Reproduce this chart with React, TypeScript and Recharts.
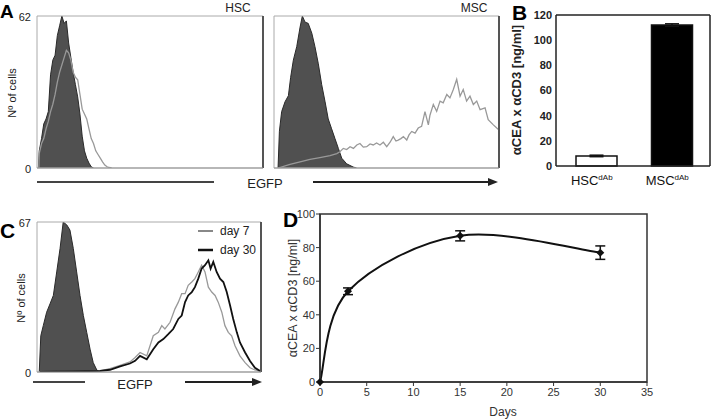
import React from "react";
import {
  ComposedChart,
  Area,
  Line,
  Bar,
  Cell,
  ErrorBar,
  XAxis,
  YAxis,
  ReferenceArea,
  ReferenceLine,
} from "recharts";

const FONT = "'Liberation Sans', Arial, Helvetica, sans-serif";

// ---- Panel A (x = position along the EGFP axis, % of the axis width)
const hscIsoX = [0.6, 1, 2, 3, 4, 5, 6, 7, 8, 9, 10, 11, 12, 13, 14, 15, 16, 17, 18, 19, 20, 21, 22, 23, 24, 25];
const hscIsoY = [0, 7, 12, 18, 20, 23, 38, 44, 46, 54, 58, 62, 59, 60, 51, 45, 39, 34, 29, 22, 13, 7, 4, 2, 0.5, 0];
const hscEgfpX = [0.8, 1, 2, 3, 4, 5, 6, 7, 8, 9, 10, 11, 12, 13, 14, 15, 16, 17, 18, 19, 20, 21, 22, 23, 24, 25, 26, 27, 28, 29, 30, 31, 32, 33];
const hscEgfpY = [0, 6, 10, 12, 16, 19, 23, 26, 30, 35, 39, 42, 45, 48, 47, 44, 39, 37, 36, 30, 24, 22, 20, 16, 12, 10, 7, 5.5, 4, 2.5, 1.2, 0.5, 0.2, 0];

const mscIsoX = [1.8, 2.4, 3.4, 4.9, 6.4, 7.4, 8.6, 10.1, 11.6, 12.6, 13.8, 15.2, 16.8, 18.2, 19.7, 21.2, 22.7, 24.1, 25.6, 27.1, 28.6, 30.1, 32.3, 35.2, 36.7];
const mscIsoY = [0, 15, 23, 27, 29.5, 37, 44, 49.5, 57.5, 62, 59.5, 59, 55, 49.5, 42.5, 34, 27, 20, 16, 12, 8, 4, 1.7, 0.4, 0];
const mscEgfpX = [
  1.8, 7.1, 11.6, 16, 20.4, 24.9, 27.9, 29.3, 30.8, 32.3, 33.8, 35.3, 36.8, 38.2, 39.7, 41.2, 42.7, 44.1, 45.6,
  47.1, 48.6, 50.1, 51.6, 53, 54.2, 55.2, 56.4, 57.5, 59, 60, 61.2, 62.7, 64.1, 65.6, 67.1, 68.6, 69.3, 70.8,
  72.3, 73.8, 75.2, 76.8, 78.2, 79.7, 81.2, 82.7, 84.1, 85.6, 87.1, 88.6, 90.1, 91.6, 93.8, 95.2, 97.5, 99, 100,
];
const mscEgfpY = [
  0, 1.5, 2.5, 3.5, 4.2, 5, 5.9, 6.6, 8, 7.5, 8.7, 8, 9.4, 10, 8.5, 8.7, 9.8, 9.4, 10.2,
  9.4, 10.5, 8.7, 10.5, 12.8, 11, 11.4, 12, 12.8, 11.4, 13.5, 14.9, 14.2, 16.3, 17, 23, 17.6, 21.5, 25.9,
  23.1, 27.3, 26.6, 30, 28.6, 32, 36.2, 29.3, 32, 27.3, 29.3, 25.9, 27.3, 23.8, 24.5, 19.7, 17.6, 16.3, 15.5,
];

// ---- Panel C
const cIsoX = [1, 1.7, 2.8, 4.3, 5.8, 7.3, 8.8, 10.3, 11.7, 13.3, 14.7, 16.2, 17.7, 19.2, 20.7, 22.2, 23.7, 25.1, 26.7, 28.1];
const cIsoY = [0, 16.2, 20.7, 26.7, 30.4, 34.2, 44.7, 55.2, 67, 65.7, 63.4, 55.2, 44.7, 34.2, 25.2, 17.7, 10.2, 4.2, 0.9, 0];
const day30X = [
  1.3, 28.1, 32.6, 37.1, 41.5, 43.8, 46, 49, 51.9, 54.2, 56.4, 58.6, 60.8, 63.1, 64.6, 66.1, 67.5, 69.1, 70.5,
  72, 73.5, 75, 76.5, 77.5, 78.7, 80.2, 81.7, 83.2, 84.7, 86.2, 87.6, 89.2, 90.6, 92.9, 95.1, 97.3, 99.6,
];
const day30Y = [
  0, 0.5, 1, 2.5, 3.8, 5, 7.2, 5.7, 10.2, 13.2, 14.7, 16.9, 19.2, 23.7, 25.2, 31.2, 34.2, 35.7, 37.9,
  41.7, 46.2, 47.7, 49.9, 46.2, 49.2, 44.7, 41.7, 40.2, 35.7, 29.7, 23.7, 17.7, 13.2, 8.7, 4.9, 1.9, 0.4,
];
const day7X = [
  1.3, 28.1, 32.6, 37.1, 41.5, 43.8, 46, 49, 51.9, 54.2, 55.7, 57.1, 59.4, 61.6, 63.1, 64.6, 66.1, 67.5, 69.1,
  70.5, 72, 73.5, 75, 76.5, 78, 79.5, 80.9, 82.5, 83.9, 85.4, 86.9, 88.4, 90.6, 92.9, 95.1, 97.3, 99.6,
];
const day7Y = [
  0, 0.5, 1.5, 3, 4.5, 6.5, 8.7, 7.2, 16.2, 17.7, 20.7, 19.2, 22.2, 28.2, 31.2, 35, 35, 38.7, 40.2,
  41.7, 44.7, 47.7, 44.7, 37.9, 35.7, 34.2, 31.2, 26.7, 20.7, 17.7, 16.2, 11.7, 7.2, 4.2, 1.9, 0.9, 0.4,
];

const egfpTicks = [0, 12.5, 25, 37.5, 50, 62.5, 75, 87.5, 100];

// ---- Panel B
const bCategories = ["HSC", "MSC"];
const bValues = [8, 112];
const bErrors = [0.6, 1];
const bTicks = [0, 20, 40, 60, 80, 100, 120];

// ---- Panel D
const dDays = [0, 3, 15, 30];
const dValues = [0, 54, 87, 77];
const dErrors = [0, 2, 3, 4];
const dTicksX = [0, 5, 10, 15, 20, 25, 30, 35];
const dTicksY = [0, 20, 40, 60, 80, 100];

type Trace = { key: string; xs: number[]; ys: number[] };

function mergeTraces(traces: Trace[]) {
  const rows = new Map<number, any>();
  traces.forEach(({ key, xs, ys }) => {
    xs.forEach((x, i) => {
      const row = rows.get(x) || { x };
      row[key] = ys[i];
      rows.set(x, row);
    });
  });
  return Array.from(rows.values()).sort((a, b) => a.x - b.x);
}

// excel-style smoothed line (bezier with 1/6 tangents)
const smoothCurve = (ctx: any) => {
  let pts: number[][] = [];
  return {
    areaStart() {},
    areaEnd() {},
    lineStart() {
      pts = [];
    },
    point(x: number, y: number) {
      pts.push([+x, +y]);
    },
    lineEnd() {
      if (!pts.length) return;
      ctx.moveTo(pts[0][0], pts[0][1]);
      for (let i = 0; i < pts.length - 1; i++) {
        const p0 = pts[Math.max(i - 1, 0)];
        const p1 = pts[i];
        const p2 = pts[i + 1];
        const p3 = pts[Math.min(i + 2, pts.length - 1)];
        ctx.bezierCurveTo(
          p1[0] + (p2[0] - p0[0]) / 6,
          p1[1] + (p2[1] - p0[1]) / 6,
          p2[0] - (p3[0] - p1[0]) / 6,
          p2[1] - (p3[1] - p1[1]) / 6,
          p2[0],
          p2[1]
        );
      }
    },
  };
};

interface HistProps {
  left: number;
  top: number;
  plotW: number;
  plotH: number;
  yMax: number;
  showY: boolean;
  iso: Trace;
  lines: { trace: Trace; color: string; width: number }[];
}

function FacsHistogram({ left, top, plotW, plotH, yMax, showY, iso, lines }: HistProps) {
  // y axis is 30 wide, x axis 1 high; margins make up the rest
  const m = { top: 6, right: 6, bottom: 9, left: 10 };
  const data = mergeTraces([iso, ...lines.map((l) => l.trace)]);
  const yTick = (p: any) => (
    <text x={p.x} y={p.y + 5} textAnchor="end" fontSize={11} fill="#222" fontFamily={FONT}>
      {p.payload.value}
    </text>
  );
  return (
    <div style={{ position: "absolute", left: left - 40, top: top - m.top }}>
      <ComposedChart width={plotW + 46} height={plotH + 16} data={data} margin={m}>
        <XAxis
          type="number"
          dataKey="x"
          domain={[0, 100]}
          ticks={egfpTicks}
          height={1}
          mirror
          tick={false}
          tickSize={3}
          tickLine={{ stroke: "#999" }}
          axisLine={{ stroke: "#999" }}
        />
        <YAxis
          type="number"
          domain={[0, yMax]}
          allowDataOverflow
          width={30}
          ticks={[0, yMax]}
          interval={0}
          tick={showY ? yTick : false}
          tickLine={false}
          tickSize={0}
          tickMargin={6}
          axisLine={false}
        />
        <Area
          dataKey={iso.key}
          type="linear"
          fill="#505050"
          fillOpacity={1}
          stroke="#2a2a2a"
          strokeWidth={1}
          connectNulls
          dot={false}
          activeDot={false}
          isAnimationActive={false}
        />
        {lines.map((l) => (
          <Line
            key={l.trace.key}
            dataKey={l.trace.key}
            type="linear"
            stroke={l.color}
            strokeWidth={l.width}
            connectNulls
            dot={false}
            activeDot={false}
            isAnimationActive={false}
          />
        ))}
        <ReferenceArea x1={0} x2={100} y1={0} y2={yMax} fill="none" stroke="#aaa" strokeWidth={1} />
        <ReferenceLine x={100} stroke="#555" strokeWidth={2} />
      </ComposedChart>
    </div>
  );
}

const bData = bCategories.map((name, i) => ({ name, value: bValues[i], err: bErrors[i] }));
const dData = dDays.map((day, i) => ({ day, value: dValues[i], err: dErrors[i] }));

function PanelB() {
  const m = { top: 14, right: 0, bottom: 14, left: 26 };
  const catTick = (p: any) => (
    <text x={p.x - 5} y={p.y + 19} textAnchor="middle" fontSize={13} fill="#111" fontFamily={FONT}>
      {p.payload.value}
      <tspan fontSize={8} dy={-5}>
        dAb
      </tspan>
    </text>
  );
  return (
    <div style={{ position: "absolute", left: 500, top: 0 }}>
      <ComposedChart width={211} height={200} data={bData} margin={m}>
        <XAxis dataKey="name" height={20} padding={{ left: 3, right: 0 }} tick={catTick} tickLine={false}
          tickSize={0} tickMargin={0} axisLine={{ stroke: "#222", strokeWidth: 1.5 }} />
        <XAxis xAxisId="top" orientation="top" dataKey="name" height={1} tick={false} tickLine={false}
          axisLine={{ stroke: "#222", strokeWidth: 1.5 }} />
        <YAxis domain={[0, 120]} ticks={bTicks} interval={0} width={30} tickLine={false} tickSize={0} tickMargin={4}
          tick={{ fontSize: 11, fontWeight: "bold", fill: "#222", fontFamily: FONT }}
          axisLine={{ stroke: "#222", strokeWidth: 1.5 }} />
        <YAxis yAxisId="right" orientation="right" width={1} tick={false} tickLine={false}
          axisLine={{ stroke: "#222", strokeWidth: 1.5 }} />
        <Bar dataKey="value" barSize={41} stroke="#111" strokeWidth={1.5} isAnimationActive={false}>
          {bData.map((d, i) => (
            <Cell key={d.name} fill={i === 0 ? "#ffffff" : "#000000"} />
          ))}
          <ErrorBar dataKey="err" width={7} stroke="#111" strokeWidth={1.5} />
        </Bar>
      </ComposedChart>
    </div>
  );
}

const Diamond = (p: any) => {
  const { cx, cy, index } = p;
  return (
    <path
      key={`dia-${index}`}
      d={`M${cx},${cy - 4}L${cx + 4},${cy}L${cx},${cy + 4}L${cx - 4},${cy}Z`}
      fill="#111"
    />
  );
};

function PanelD() {
  const m = { top: 9, right: 13, bottom: 7, left: 10 };
  const tickStyle = { fontSize: 11, fill: "#333", fontFamily: FONT };
  return (
    <div style={{ position: "absolute", left: 280, top: 205 }}>
      <ComposedChart width={380} height={214} data={dData} margin={m}>
        <XAxis type="number" dataKey="day" domain={[0, 35]} ticks={dTicksX} interval={0} height={30} tickSize={4}
          tickMargin={2} tick={tickStyle} stroke="#333" tickLine={{ stroke: "#333" }}
          axisLine={{ stroke: "#333", strokeWidth: 1.5 }} />
        <YAxis type="number" domain={[0, 100]} ticks={dTicksY} interval={0} width={30} tickSize={4} tickMargin={1}
          tick={tickStyle} stroke="#333" tickLine={{ stroke: "#333" }}
          axisLine={{ stroke: "#333", strokeWidth: 1.5 }} />
        <ReferenceArea x1={0} x2={35} y1={0} y2={100} fill="none" stroke="#333" strokeWidth={1.5} />
        <Line dataKey="value" type={smoothCurve as any} stroke="#111" strokeWidth={2} dot={Diamond}
          activeDot={false} isAnimationActive={false}>
          <ErrorBar dataKey="err" width={5} stroke="#111" strokeWidth={1.5} direction="y" />
        </Line>
      </ComposedChart>
    </div>
  );
}

export default function App() {
  return (
    <div
      style={{
        position: "absolute",
        left: 0,
        top: 0,
        width: 711,
        height: 419,
        background: "#fff",
        fontFamily: FONT,
        overflow: "hidden",
      }}
    >
      <FacsHistogram
        left={37}
        top={16}
        plotW={226}
        plotH={151}
        yMax={62}
        showY
        iso={{ key: "iso", xs: hscIsoX, ys: hscIsoY }}
        lines={[{ trace: { key: "egfp", xs: hscEgfpX, ys: hscEgfpY }, color: "#999", width: 1.3 }]}
      />
      <FacsHistogram
        left={274}
        top={16}
        plotW={225}
        plotH={151}
        yMax={62}
        showY={false}
        iso={{ key: "iso", xs: mscIsoX, ys: mscIsoY }}
        lines={[{ trace: { key: "egfp", xs: mscEgfpX, ys: mscEgfpY }, color: "#999", width: 1.3 }]}
      />
      <FacsHistogram
        left={37}
        top={222}
        plotW={224}
        plotH={149}
        yMax={67}
        showY
        iso={{ key: "iso", xs: cIsoX, ys: cIsoY }}
        lines={[
          { trace: { key: "d7", xs: day7X, ys: day7Y }, color: "#999", width: 1.3 },
          { trace: { key: "d30", xs: day30X, ys: day30Y }, color: "#111", width: 1.8 },
        ]}
      />
      <PanelB />
      <PanelD />

      <svg
        width={711}
        height={419}
        style={{ position: "absolute", left: 0, top: 0, pointerEvents: "none" }}
        fontFamily={FONT}
      >
        <g fontSize={21} fontWeight="bold" fill="#000">
          <text x={0} y={18} fontSize={19}>A</text>
          <text x={512} y={20}>B</text>
          <text x={0} y={237.5}>C</text>
          <text x={283} y={227}>D</text>
        </g>

        {/* A */}
        <text x={238} y={12} textAnchor="middle" fontSize={12} fill="#222">HSC</text>
        <text x={474} y={12} textAnchor="middle" fontSize={12} fill="#222">MSC</text>
        <text transform="translate(16,93) rotate(-90)" textAnchor="middle" fontSize={11} fill="#222">
          Nº of cells
        </text>
        <line x1={37} x2={214} y1={182} y2={182} stroke="#444" strokeWidth={2} />
        <text x={265} y={188} textAnchor="middle" fontSize={13} fill="#222">EGFP</text>
        <line x1={313} x2={490} y1={182} y2={182} stroke="#222" strokeWidth={2} />
        <polygon points="488,178 498,182 488,186" fill="#222" />

        {/* B */}
        <text transform="translate(521,90) rotate(-90)" textAnchor="middle" fontSize={13} fontWeight="bold" fill="#222">
          αCEA x αCD3 [ng/ml]
        </text>

        {/* C */}
        <text transform="translate(25,298) rotate(-90)" textAnchor="middle" fontSize={11} fill="#222">
          Nº of cells
        </text>
        <line x1={198} x2={213} y1={231} y2={231} stroke="#888" strokeWidth={2} />
        <text x={220} y={235} fontSize={12} fill="#222">day 7</text>
        <line x1={198} x2={213} y1={250} y2={250} stroke="#111" strokeWidth={2.5} />
        <text x={220} y={254} fontSize={12} fill="#222">day 30</text>
        <line x1={33} x2={85} y1={382} y2={382} stroke="#444" strokeWidth={2} />
        <text x={135} y={389} textAnchor="middle" fontSize={13} fill="#222">EGFP</text>
        <line x1={185} x2={254} y1={382} y2={382} stroke="#222" strokeWidth={2} />
        <polygon points="252,378 262,382 252,386" fill="#222" />

        {/* D */}
        <text transform="translate(297,298) rotate(-90)" textAnchor="middle" fontSize={12.5} fill="#333">
          αCEA x αCD3 [ng/ml]
        </text>
        <text x={503} y={416} textAnchor="middle" fontSize={12} fill="#333">Days</text>
      </svg>
    </div>
  );
}
